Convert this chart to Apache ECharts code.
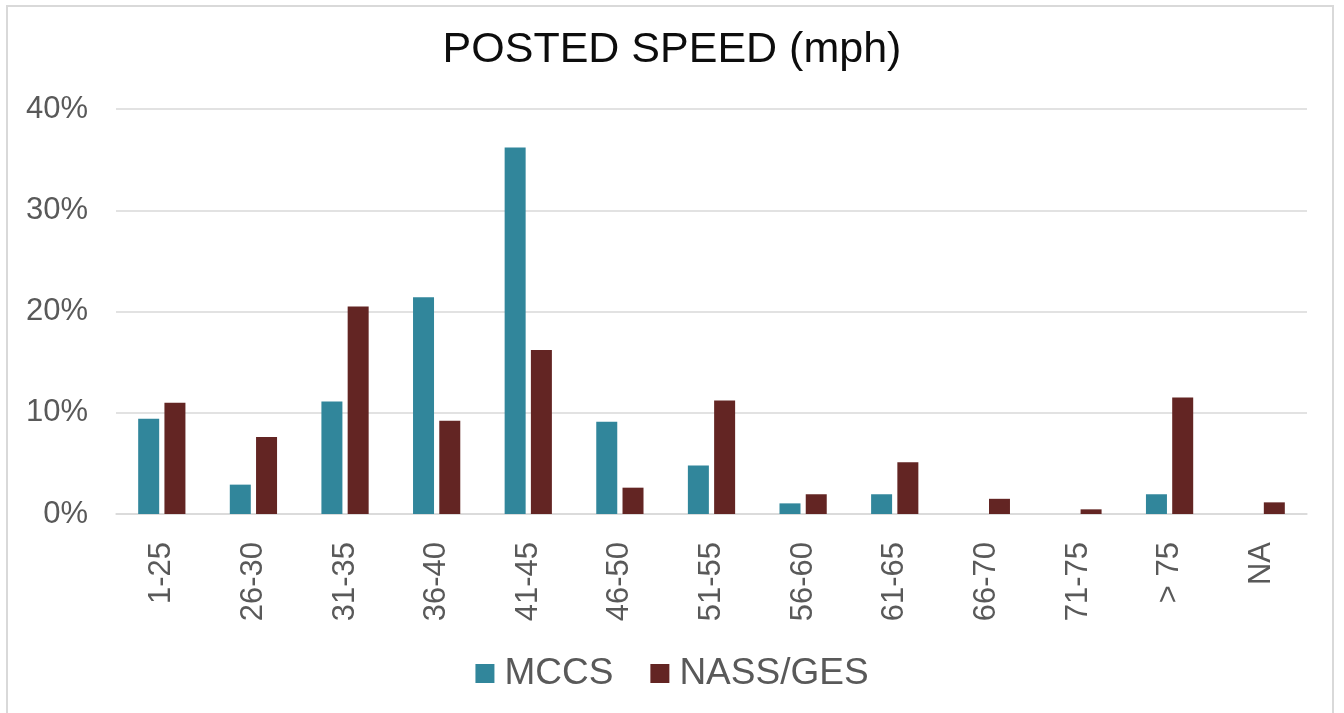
<!DOCTYPE html>
<html>
<head>
<meta charset="utf-8">
<script src="https://cdn.jsdelivr.net/npm/echarts@6/dist/echarts.min.js"></script>
<style>
html,body{margin:0;padding:0;background:#fff;}
#frame{position:absolute;left:6px;top:5px;width:1328px;height:720px;border:2px solid #d9d9d9;box-sizing:border-box;}
#chart{position:absolute;left:0;top:0;width:1344px;height:713px;}
</style>
</head>
<body>
<div id="frame"></div>
<div id="chart"></div>
<script>
const categories = ['1-25','26-30','31-35','36-40','41-45','46-50','51-55','56-60','61-65','66-70','71-75','> 75','NA'];
const mccs = [9.4, 2.9, 11.1, 21.4, 36.2, 9.1, 4.8, 1.05, 1.95, 0, 0, 1.95, 0];
const nass = [11.0, 7.6, 20.5, 9.2, 16.2, 2.6, 11.2, 1.95, 5.1, 1.5, 0.46, 11.5, 1.15];
const yTicks = [0, 10, 20, 30, 40];

const chart = echarts.init(document.getElementById('chart'), null, {renderer: 'canvas'});
const font = '"Liberation Sans", Arial, sans-serif';
chart.setOption({
  animation: false,
  backgroundColor: 'transparent',
  title: {
    text: 'POSTED SPEED (mph)',
    left: 'center',
    top: 24,
    textStyle: {fontFamily: font, fontSize: 43, fontWeight: 'normal', color: '#0d0d0d'}
  },
  legend: {
    bottom: 16,
    left: 'center',
    itemWidth: 19,
    itemHeight: 19,
    itemGap: 37,
    icon: 'rect',
    textStyle: {fontFamily: font, fontSize: 37, color: '#595959', padding: [0,0,0,5]},
    data: ['MCCS', 'NASS/GES']
  },
  grid: {left: 116, right: 37, top: 109, bottom: 199, containLabel: false},
  xAxis: {
    type: 'category',
    data: categories,
    axisLine: {show: true, lineStyle: {color: '#d9d9d9', width: 1.5}},
    axisTick: {show: false},
    axisLabel: {rotate: 90, margin: 28, fontFamily: font, fontSize: 31, color: '#595959', interval: 0}
  },
  yAxis: {
    type: 'value',
    min: yTicks[0],
    max: yTicks[yTicks.length - 1],
    interval: 10,
    axisLine: {show: false},
    axisTick: {show: false},
    splitLine: {lineStyle: {color: '#d9d9d9', width: 1.5}},
    axisLabel: {margin: 28, fontFamily: font, fontSize: 31, color: '#595959', formatter: v => v + '%'}
  },
  series: [
    {name: 'MCCS', type: 'bar', data: mccs, barWidth: 21, barGap: '25%', itemStyle: {color: '#31869b'}},
    {name: 'NASS/GES', type: 'bar', data: nass, barWidth: 21, itemStyle: {color: '#632523'}}
  ]
});
</script>
</body>
</html>
